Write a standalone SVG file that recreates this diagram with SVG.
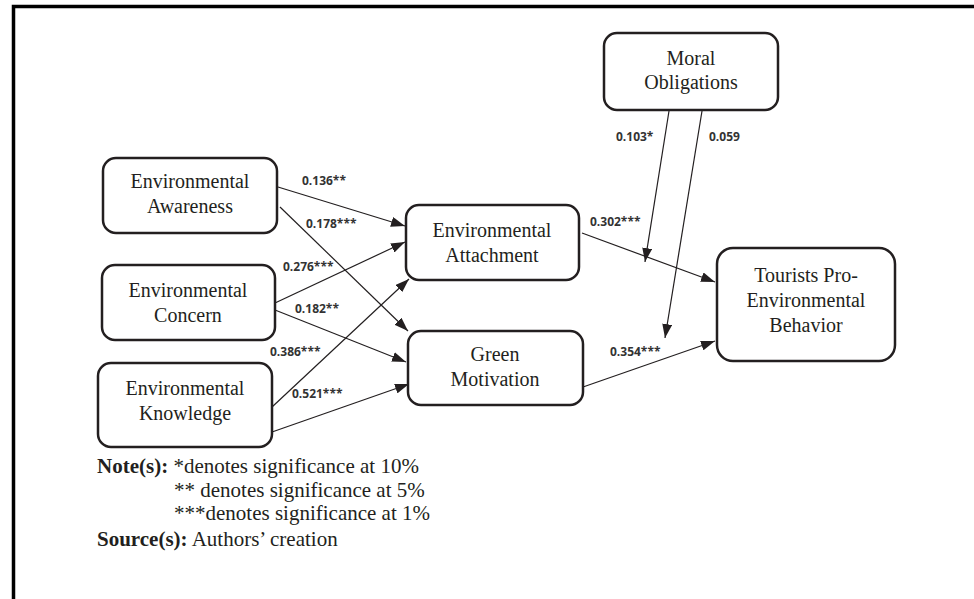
<svg xmlns="http://www.w3.org/2000/svg" width="974" height="599" viewBox="0 0 974 599">
<defs>
<style>
.box{fill:#fff;stroke:#231f20;stroke-width:2.5}
.t{font-family:"Liberation Serif","Times New Roman",serif;font-size:20px;fill:#231f20;text-anchor:middle}
.c{fill:none;stroke:#231f20;stroke-width:1.2;marker-end:url(#ah)}
.lb{font-family:"Open Sans","Liberation Sans",sans-serif;font-weight:bold;font-size:12px;fill:#333}
.n{font-family:"Liberation Serif","Times New Roman",serif;font-size:21px;fill:#231f20}
.b{font-weight:bold}
</style>
<marker id="ah" markerUnits="userSpaceOnUse" markerWidth="14" markerHeight="10" refX="14" refY="5" orient="auto">
<path d="M0,0 L14,5 L0,10 z" fill="#231f20"/>
</marker>
</defs>
<rect width="974" height="599" fill="#fff"/>
<path d="M13.5,599 V6.5 H974" fill="none" stroke="#000" stroke-width="3.5"/>

<g id="connectors">
<line class="c" x1="278" y1="187" x2="405" y2="226"/>
<line class="c" x1="280" y1="207" x2="408" y2="331"/>
<line class="c" x1="275" y1="303" x2="405" y2="242"/>
<line class="c" x1="275" y1="310" x2="406" y2="362"/>
<line class="c" x1="272" y1="407" x2="409" y2="279"/>
<line class="c" x1="272" y1="432" x2="409" y2="384"/>
<line class="c" x1="582" y1="233" x2="715" y2="282"/>
<line class="c" x1="583" y1="387" x2="715" y2="341"/>
<line class="c" x1="669" y1="111" x2="645" y2="262"/>
<line class="c" x1="702" y1="111" x2="665" y2="338"/>
<text class="lb" x="302" y="185">0.136**</text>
<text class="lb" x="306" y="228">0.178***</text>
<text class="lb" x="283" y="271">0.276***</text>
<text class="lb" x="295" y="313">0.182**</text>
<text class="lb" x="270" y="356">0.386***</text>
<text class="lb" x="292" y="398">0.521***</text>
<text class="lb" x="590" y="226">0.302***</text>
<text class="lb" x="610" y="356">0.354***</text>
<text class="lb" x="616" y="141">0.103*</text>
<text class="lb" x="709" y="141">0.059</text>
</g>

<g id="awareness">
<rect class="box" x="103" y="158" width="174" height="75" rx="13"/>
<text class="t" x="190" y="188">Environmental</text>
<text class="t" x="190" y="213">Awareness</text>
</g>
<g id="concern">
<rect class="box" x="102" y="265" width="173" height="75" rx="13"/>
<text class="t" x="188" y="297">Environmental</text>
<text class="t" x="188" y="322">Concern</text>
</g>
<g id="knowledge">
<rect class="box" x="98" y="363" width="174" height="84" rx="13"/>
<text class="t" x="185" y="395">Environmental</text>
<text class="t" x="185" y="420">Knowledge</text>
</g>
<g id="attachment">
<rect class="box" x="406" y="205" width="173" height="75" rx="13"/>
<text class="t" x="492" y="237">Environmental</text>
<text class="t" x="492" y="262">Attachment</text>
</g>
<g id="motivation">
<rect class="box" x="408" y="331" width="175" height="74" rx="13"/>
<text class="t" x="495" y="361">Green</text>
<text class="t" x="495" y="386">Motivation</text>
</g>
<g id="moral">
<rect class="box" x="604" y="33" width="174" height="77" rx="13"/>
<text class="t" x="691" y="65">Moral</text>
<text class="t" x="691" y="89">Obligations</text>
</g>
<g id="tourists">
<rect class="box" x="717" y="248" width="178" height="113" rx="16"/>
<text class="t" x="806" y="282">Tourists Pro-</text>
<text class="t" x="806" y="307">Environmental</text>
<text class="t" x="806" y="332">Behavior</text>
</g>

<g id="notes">
<text class="n" x="97" y="473"><tspan class="b">Note(s):</tspan> *denotes significance at 10%</text>
<text class="n" x="174" y="496.5">** denotes significance at 5%</text>
<text class="n" x="174" y="520">***denotes significance at 1%</text>
<text class="n" x="97" y="546"><tspan class="b">Source(s):</tspan> Authors’ creation</text>
</g>
</svg>
